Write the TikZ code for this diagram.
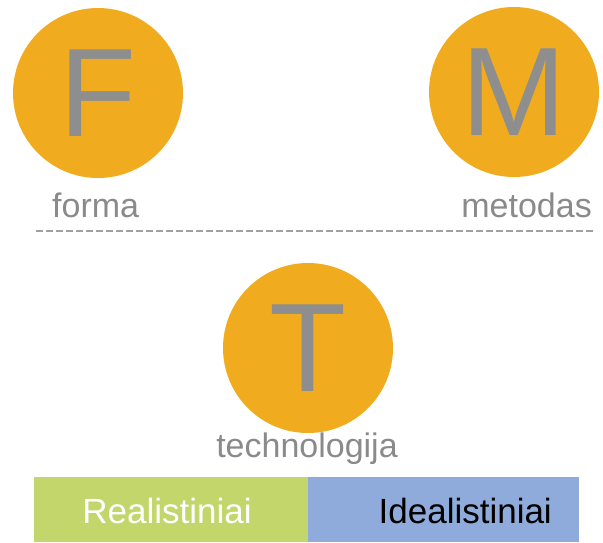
\documentclass[tikz,border=0pt]{standalone}
\usepackage{fontspec}
\setmainfont{Liberation Sans}
\definecolor{orng}{HTML}{F0AC1E}
\definecolor{lettergrey}{HTML}{8E8E8E}
\definecolor{labelgrey}{HTML}{8A8A8A}
\definecolor{dashgrey}{HTML}{A0A0A0}
\definecolor{barggreen}{HTML}{C2D66B}
\definecolor{barblue}{HTML}{8EABDB}
\tikzset{
  circ/.style={circle, fill=orng, draw=none, minimum size=170pt, inner sep=0pt,
    text=lettergrey, font=\fontsize{126}{126}\selectfont},
  lbl/.style={inner sep=0pt, text=labelgrey, font=\fontsize{34}{34}\selectfont},
  barbox/.style={draw=none, inner sep=0pt, minimum height=65pt, anchor=north west},
  bartext/.style={inner sep=0pt, font=\fontsize{35}{35}\selectfont}
}
\begin{document}
\begin{tikzpicture}[x=1pt,y=-1pt]
\useasboundingbox (0,0) rectangle (603,542);
\node[circ] (F) at (98,93) {F};
\node[circ] (M) at (514,92) {M};
\node[circ] (T) at (308,348) {T};
\node[lbl, anchor=base west] (forma) at (52,217) {forma};
\node[lbl, anchor=base east] (metodas) at (592,217) {metodas};
\node[lbl, anchor=base] (tech) at (307,457) {technologija};
\coordinate (dl) at (36,231);
\coordinate (dr) at (595,231);
\draw[dashgrey, line width=2pt, dash pattern=on 7pt off 3pt] (dl) -- (dr);
\node[barbox, fill=barggreen, minimum width=274pt] (R) at (34,477) {};
\node[barbox, fill=barblue, minimum width=271pt] (I) at (308,477) {};
\node[bartext, text=white, anchor=base] (Rt) at (167,523) {Realistiniai};
\node[bartext, text=black, anchor=base east] (It) at (552,523) {Idealistiniai};
\end{tikzpicture}
\end{document}
